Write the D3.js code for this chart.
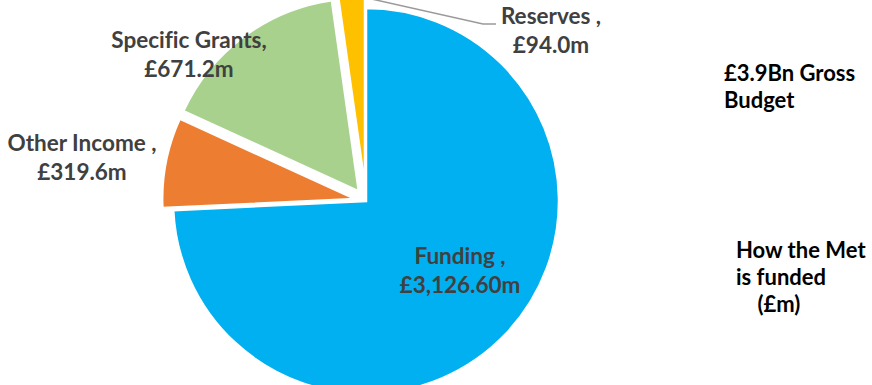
<!DOCTYPE html>
<html>
<head>
<meta charset="utf-8">
<script src="https://cdn.jsdelivr.net/npm/d3@7"></script>
<style>
  html, body { margin: 0; padding: 0; background: #fff; }
  svg { display: block; }
  text { font-family: Lato, "Open Sans", sans-serif; font-weight: 700; font-variant-ligatures: none; }
</style>
</head>
<body>
<svg id="chart" width="872" height="385"></svg>
<script>
// Metropolitan Police funding sources (£m)
const categories = ["Funding", "Other Income", "Specific Grants", "Reserves"];
const values = [3126.6, 319.6, 671.2, 94.0];
const valueLabels = ["£3,126.60m", "£319.6m", "£671.2m", "£94.0m"];
const nameLabels = ["Funding ,", "Other Income ,", "Specific Grants,", "Reserves ,"];
const colors = ["#00B0F0", "#ED7D31", "#A9D18E", "#FFC000"];

const width = 872, height = 385;
const cx = 366, cy = 201, radius = 193;
// how far each slice is pulled out from the centre
const explode = [0, 11, 12, 14];

const svg = d3.select("#chart");
const g = svg.append("g").attr("transform", `translate(${cx},${cy})`);

const pie = d3.pie().sort(null).value(d => d.value);
const data = categories.map((c, i) => ({ name: c, value: values[i], i }));
const arcs = pie(data);
const arc = d3.arc().innerRadius(0).outerRadius(radius);

function offset(a) {
  const mid = (a.startAngle + a.endAngle) / 2;
  const e = explode[a.data.i];
  return [Math.sin(mid) * e, -Math.cos(mid) * e];
}

g.selectAll("path.slice")
  .data(arcs)
  .join("path")
  .attr("class", "slice")
  .attr("transform", d => { const [dx, dy] = offset(d); return `translate(${dx},${dy})`; })
  .attr("d", arc)
  .attr("fill", d => colors[d.data.i])
  .attr("stroke", "#fff")
  .attr("stroke-width", 2.5)
  .attr("stroke-linejoin", "miter");

// leader line for the small Reserves slice
const res = arcs[3];
const [rdx, rdy] = offset(res);
const resMid = (res.startAngle + res.endAngle) / 2;
const leadStart = [cx + rdx + Math.sin(resMid) * radius, cy + rdy - Math.cos(resMid) * radius];
svg.append("polyline")
  .attr("points", [leadStart, [483, 24], [496, 24]].map(p => p.join(",")).join(" "))
  .attr("fill", "none")
  .attr("stroke", "#9A9A9A")
  .attr("stroke-width", 1.5);

// data labels: [x centre, first baseline]
const labelPos = [[460, 264], [82, 151], [189, 48], [551, 24]];
const lineGap = 29;
arcs.forEach(a => {
  const i = a.data.i;
  const t = svg.append("text")
    .attr("x", labelPos[i][0])
    .attr("y", labelPos[i][1])
    .attr("text-anchor", "middle")
    .attr("fill", "#404040")
    .attr("font-size", 22.5);
  t.append("tspan").attr("x", labelPos[i][0]).text(nameLabels[i]);
  t.append("tspan").attr("x", labelPos[i][0]).attr("dy", lineGap).text(valueLabels[i]);
});

// side notes
const notes = [
  { x: 724, y: 81, lines: ["£3.9Bn Gross", "Budget"] },
  { x: 736, y: 258, lines: ["How the Met", "is funded", "\u00a0\u00a0\u00a0\u00a0(£m)"] }
];
notes.forEach(n => {
  const t = svg.append("text")
    .attr("x", n.x).attr("y", n.y)
    .attr("fill", "#000")
    .attr("font-size", 22);
  n.lines.forEach((l, k) => {
    t.append("tspan").attr("x", n.x).attr("dy", k === 0 ? 0 : 27).text(l);
  });
});
</script>
</body>
</html>
